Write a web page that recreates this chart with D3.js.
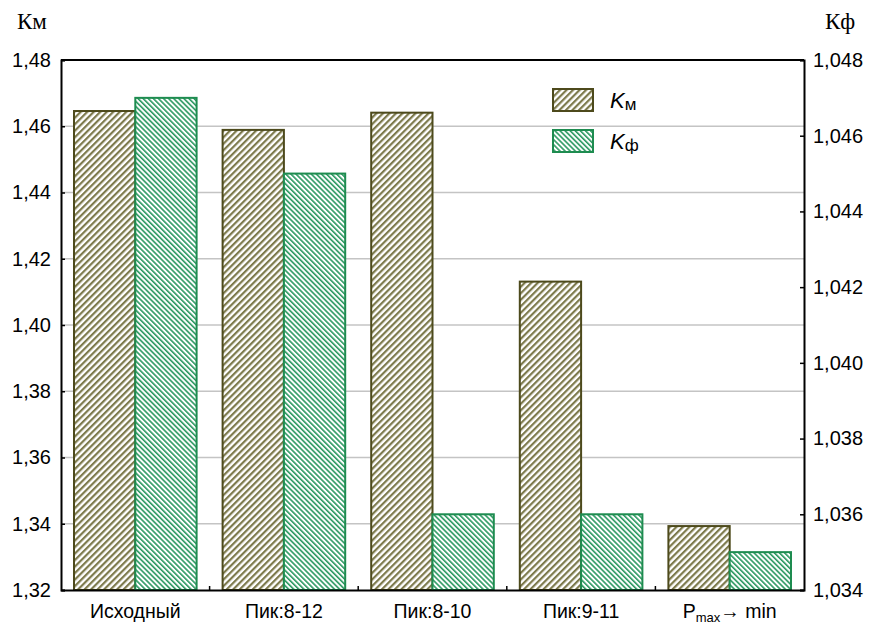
<!DOCTYPE html>
<html>
<head>
<meta charset="utf-8">
<script src="https://cdnjs.cloudflare.com/ajax/libs/d3/7.8.5/d3.min.js"></script>
<style>
  body { margin: 0; background: #fff; }
  text { font-family: Arial, "Liberation Sans", sans-serif; fill: #000; }
</style>
</head>
<body>
<div class="container"></div>
<script>
const categories = ['Исходный', 'Пик:8-12', 'Пик:8-10', 'Пик:9-11', 'Pmax']
const kmValues = [1.4646, 1.4589, 1.4641, 1.4131, 1.3393]
const kfValues = [1.0470, 1.0450, 1.0360, 1.0360, 1.0350]
const leftTicks = [1.32, 1.34, 1.36, 1.38, 1.40, 1.42, 1.44, 1.46, 1.48]
const rightTicks = [1.034, 1.036, 1.038, 1.040, 1.042, 1.044, 1.046, 1.048]

let width = 869
let height = 624
let margin = { left: 61, right: 65, top: 60, bottom: 34 }
let fmt = (d, n) => d.toFixed(n).replace('.', ',')

let svg = d3.select('.container')
    .append('svg')
    .attr('width', width)
    .attr('height', height)

let defs = svg.append('defs')
let pKm = defs.append('pattern')
    .attr('id', 'hatchKm')
    .attr('patternUnits', 'userSpaceOnUse')
    .attr('width', 4.6).attr('height', 4.6)
    .attr('patternTransform', 'rotate(45)')
pKm.append('rect').attr('width', 4.6).attr('height', 4.6).attr('fill', '#fff')
pKm.append('rect').attr('width', 2.2).attr('height', 4.6).attr('fill', '#7d7a4c')

let pKf = defs.append('pattern')
    .attr('id', 'hatchKf')
    .attr('patternUnits', 'userSpaceOnUse')
    .attr('width', 3.6).attr('height', 3.6)
    .attr('patternTransform', 'rotate(-45)')
pKf.append('rect').attr('width', 3.6).attr('height', 3.6).attr('fill', '#fff')
pKf.append('rect').attr('width', 1.6).attr('height', 3.6).attr('fill', '#2a9860')

let x0 = d3.scaleBand()
    .domain(categories)
    .range([margin.left, width - margin.right])
    .paddingInner(0.175).paddingOuter(0.0875)
let x1 = d3.scaleBand()
    .domain(['km', 'kf'])
    .range([0, x0.bandwidth()])

let yL = d3.scaleLinear().domain([1.32, 1.48]).range([height - margin.bottom, margin.top])
let yR = d3.scaleLinear().domain([1.034, 1.048]).range([height - margin.bottom, margin.top])

// gridlines
svg.append('g')
    .selectAll('line')
    .data(leftTicks.slice(1, -1))
    .enter()
    .append('line')
    .attr('x1', margin.left).attr('x2', width - margin.right)
    .attr('y1', d => yL(d)).attr('y2', d => yL(d))
    .attr('stroke', '#c4c4c4').attr('stroke-width', 1.5)

let groups = svg.append('g')
    .selectAll('g')
    .data(categories)
    .enter()
    .append('g')
    .attr('transform', d => `translate(${x0(d)},0)`)

groups.append('rect')
    .attr('x', x1('km'))
    .attr('y', (d, i) => yL(kmValues[i]))
    .attr('width', x1.bandwidth())
    .attr('height', (d, i) => yL(1.32) - yL(kmValues[i]))
    .attr('fill', 'url(#hatchKm)')
    .attr('stroke', '#4d4a1c').attr('stroke-width', 2)

groups.append('rect')
    .attr('x', x1('kf'))
    .attr('y', (d, i) => yR(kfValues[i]))
    .attr('width', x1.bandwidth())
    .attr('height', (d, i) => yR(1.034) - yR(kfValues[i]))
    .attr('fill', 'url(#hatchKf)')
    .attr('stroke', '#1e8c50').attr('stroke-width', 2)

// axes
let leftAxis = d3.axisLeft(yL).tickValues(leftTicks).tickSize(-4).tickPadding(10).tickFormat(d => fmt(d, 2))
let rightAxis = d3.axisRight(yR).tickValues(rightTicks).tickSize(-4).tickPadding(9).tickFormat(d => fmt(d, 3))
let bottomAxis = d3.axisBottom(x0).tickSize(0).tickPadding(14)

let gl = svg.append('g').attr('transform', `translate(${margin.left},0)`).call(leftAxis)
let gr = svg.append('g').attr('transform', `translate(${width - margin.right},0)`).call(rightAxis)
let gb = svg.append('g').attr('transform', `translate(0,${height - margin.bottom})`).call(bottomAxis)

;[gl, gr, gb].forEach(g => {
    g.select('.domain').attr('stroke', '#000').attr('stroke-width', 2)
    g.selectAll('.tick line').attr('stroke', '#000').attr('stroke-width', 1.5)
    g.selectAll('text').style('font-size', '20px').style('font-family', 'Arial, "Liberation Sans", sans-serif')
})
gb.selectAll('text').style('font-size', '19.5px')

// top border
svg.append('line')
    .attr('x1', margin.left).attr('x2', width - margin.right)
    .attr('y1', margin.top).attr('y2', margin.top)
    .attr('stroke', '#000').attr('stroke-width', 2)

// small ticks between groups on bottom axis
svg.append('g')
    .selectAll('line')
    .data(categories.slice(1))
    .enter()
    .append('line')
    .attr('x1', d => x0(d) - x0.step() * x0.paddingInner() / 2)
    .attr('x2', d => x0(d) - x0.step() * x0.paddingInner() / 2)
    .attr('y1', height - margin.bottom).attr('y2', height - margin.bottom - 4)
    .attr('stroke', '#000').attr('stroke-width', 1.5)

// Pmax label with subscript
let last = gb.selectAll('.tick').filter(d => d === 'Pmax').select('text')
last.text(null)
last.append('tspan').text('P')
last.append('tspan').text('max').attr('dy', 4).style('font-size', '13px')
last.append('tspan').text('→ min').attr('dy', -4)

// axis titles
svg.append('text').attr('x', 17).attr('y', 29).text('Км')
    .style('font-family', '"Liberation Serif", "Times New Roman", serif').style('font-size', '23px')
svg.append('text').attr('x', 825).attr('y', 29).text('Кф')
    .style('font-family', '"Liberation Serif", "Times New Roman", serif').style('font-size', '23px')

// legend
let legend = svg.append('g').attr('transform', 'translate(553,89)')
let legendItems = [
    { sub: 'м', fill: 'url(#hatchKm)', stroke: '#4d4a1c' },
    { sub: 'ф', fill: 'url(#hatchKf)', stroke: '#1e8c50' }
]
let li = legend.selectAll('g')
    .data(legendItems)
    .enter()
    .append('g')
    .attr('transform', (d, i) => `translate(0,${i * 41})`)
li.append('rect')
    .attr('width', 40).attr('height', 22)
    .attr('fill', d => d.fill).attr('stroke', d => d.stroke).attr('stroke-width', 2)
let lt = li.append('text').attr('x', 57).attr('y', 19).style('font-size', '22px')
lt.append('tspan').text('K').style('font-style', 'italic')
lt.append('tspan').text(d => d.sub).attr('dy', 2).style('font-size', '17px')
</script>
</body>
</html>
